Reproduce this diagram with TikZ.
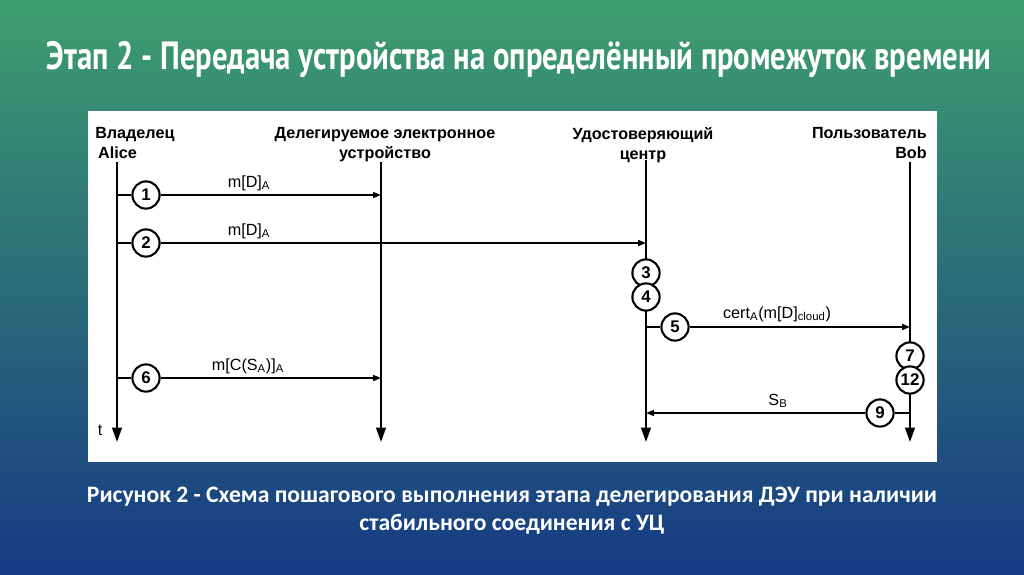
\documentclass[tikz,border=0pt]{standalone}
\usepackage{fontspec}
\setmainfont{Liberation Sans}
\newfontfamily\titlefont[FakeStretch=0.78]{PT Sans}
\newfontfamily\capfont{Carlito}
\usetikzlibrary{arrows.meta, positioning}

\definecolor{bgtop}{RGB}{62,158,110}
\definecolor{bgmid}{RGB}{32,114,128}
\definecolor{bgbot}{RGB}{22,58,132}

\begin{document}
\begin{tikzpicture}[x=0.025cm, y=-0.025cm,
  life/.style={line width=1.6pt, -{Triangle[length=0.36cm, width=0.24cm]}},
  msg/.style={line width=1.1pt, -{Triangle[length=0.2cm, width=0.15cm]}},
  wire/.style={line width=1.1pt},
  stepnum/.style={circle, draw, line width=1.5pt, fill=white, minimum size=0.68cm, inner sep=0pt, font=\bfseries\fontsize{12}{12}\selectfont},
  head/.style={font=\bfseries\fontsize{11.5}{14.2}\selectfont, inner sep=0pt},
  lbl/.style={font=\fontsize{11.5}{11.5}\selectfont, inner sep=1pt}
]
\useasboundingbox (0,0) rectangle (1024,574);
\shade[top color=bgtop, middle color=bgmid, bottom color=bgbot] (0,0) rectangle (1024,574);
\fill[white] (88,111) rectangle (937,462);

\node[text=white, font=\titlefont\bfseries\fontsize{28}{28}\selectfont] (title) at (519,59) {Этап 2 - Передача устройства на определённый промежуток времени};

\node[head, align=left, anchor=north west] (alice) at (95,127) {Владелец\\\hspace{2pt}Alice};
\node[head, align=center, anchor=north] (device) at (385,127) {Делегируемое электронное\\устройство};
\node[head, align=center, anchor=north] (ca) at (643,127) {Удостоверяющий\\центр};
\node[head, align=right, anchor=north east] (bob) at (927,127) {Пользователь\\Bob};

\coordinate (atop) at (117,162);
\coordinate (abot) at (117,442);
\coordinate (dtop) at (381,162);
\coordinate (dbot) at (381,442);
\coordinate (ctop) at (646,160);
\coordinate (cbot) at (646,442);
\coordinate (btop) at (910,162);
\coordinate (bbot) at (910,442);

\draw[life] (atop) -- (abot);
\draw[life] (dtop) -- (dbot);
\draw[life] (ctop) -- (cbot);
\draw[life] (btop) -- (bbot);
\node[lbl] (t) at (100,430) {t};

\coordinate (a1) at (117,195);
\coordinate (d1) at (381,195);
\coordinate (a2) at (117,243);
\coordinate (c2) at (646,243);
\coordinate (c5) at (646,327);
\coordinate (b5) at (910,327);
\coordinate (a6) at (117,378);
\coordinate (d6) at (381,378);
\coordinate (b9) at (910,413);
\coordinate (c9) at (646,413);

\node[stepnum] (n1) at (146,195) {1};
\node[stepnum] (n2) at (146,243) {2};
\node[stepnum] (n3) at (646,273) {3};
\node[stepnum] (n4) at (646,297) {4};
\node[stepnum] (n5) at (675,327) {5};
\node[stepnum] (n6) at (146,378) {6};
\node[stepnum] (n7) at (910,356) {7};
\node[stepnum] (n12) at (910,380) {12};
\node[stepnum] (n9) at (880,413) {9};

\draw[wire] (a1) -- (n1);
\draw[msg] (n1) -- (d1);
\draw[wire] (a2) -- (n2);
\draw[msg] (n2) -- (c2);
\draw[wire] (c5) -- (n5);
\draw[msg] (n5) -- (b5);
\draw[wire] (a6) -- (n6);
\draw[msg] (n6) -- (d6);
\draw[wire] (b9) -- (n9);
\draw[msg] (n9) -- (c9);

\node[lbl] (m1) at (249,183) {m[D]\textsubscript{A}};
\node[lbl] (m2) at (249,231) {m[D]\textsubscript{A}};
\node[lbl] (m5) at (777,314) {cert\textsubscript{A}(m[D]\textsubscript{cloud})};
\node[lbl] (m6) at (248,366) {m[C(S\textsubscript{A})]\textsubscript{A}};
\node[lbl] (m9) at (778,401) {S\textsubscript{B}};

\node[text=white, align=center, font=\capfont\bfseries\fontsize{16.8}{20}\selectfont] (caption) at (512,511) {Рисунок 2 - Схема пошагового выполнения этапа делегирования ДЭУ при наличии\\стабильного соединения с УЦ};
\end{tikzpicture}
\end{document}
